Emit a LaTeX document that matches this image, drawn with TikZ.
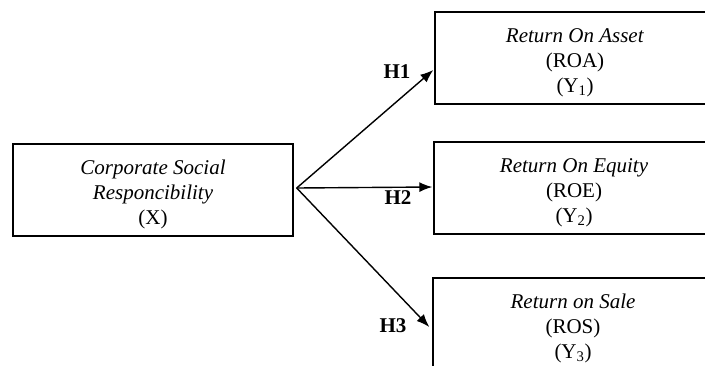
\documentclass[tikz,border=0pt]{standalone}
\usepackage{fontspec}
\setmainfont{Liberation Serif}
\usetikzlibrary{arrows.meta}

\tikzset{
  varbox/.style={draw, line width=1.4pt, minimum width=280pt, minimum height=92pt,
    align=center, inner sep=0pt, font=\fontsize{21}{25}\selectfont},
  hyp/.style={font=\fontsize{21}{25}\selectfont\bfseries},
  link/.style={-{Latex[length=13pt,width=10pt]}, line width=1.4pt}
}
\newcommand{\topgap}{\rule{0pt}{24pt}}

\begin{document}
\begin{tikzpicture}[x=1pt,y=-1pt]
\path[use as bounding box, clip] (0,0) rectangle (705,365);
\node[varbox] (csr) at (153,190) {\topgap\textit{Corporate Social}\\\textit{Responcibility}\\(X)};
\node[varbox] (roa) at (575,58) {\topgap\textit{Return On Asset}\\(ROA)\\(Y\textsubscript{1})};
\node[varbox] (roe) at (574,188) {\topgap\textit{Return On Equity}\\(ROE)\\(Y\textsubscript{2})};
\node[varbox] (ros) at (573,324) {\topgap\textit{Return on Sale}\\(ROS)\\(Y\textsubscript{3})};
\coordinate (src) at ([xshift=3pt,yshift=2pt]csr.east);
\begin{scope}[link]
  \draw (src) -- ([xshift=-1pt,yshift=-12pt]roa.west);
  \draw (src) -- ([xshift=-1pt,yshift=1pt]roe.west);
  \draw (src) -- ([xshift=-3pt,yshift=-3pt]ros.west);
\end{scope}
\node[hyp] (h1) at (397,72) {H1};
\node[hyp] (h2) at (398,198) {H2};
\node[hyp] (h3) at (393,326) {H3};
\end{tikzpicture}
\end{document}
